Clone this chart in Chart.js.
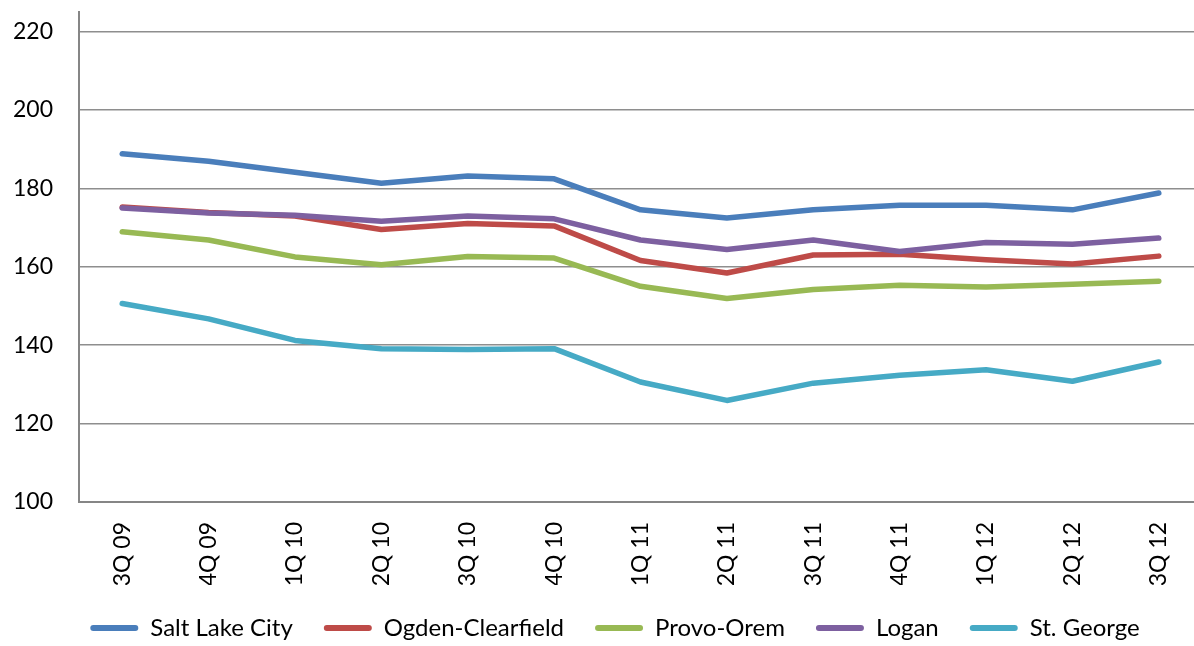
<!DOCTYPE html>
<html>
<head>
<meta charset="utf-8">
<script src="https://cdn.jsdelivr.net/npm/chart.js@4/dist/chart.umd.min.js"></script>
<style>
  html, body { margin: 0; padding: 0; background: #fff; overflow: hidden; }
  #wrap { position: absolute; left: 0; top: -28px; width: 1230px; height: 678px; }
</style>
</head>
<body>
<div id="wrap"><canvas id="chart"></canvas></div>
<script>
// Quarterly series
const quarters = ['3Q 09', '4Q 09', '1Q 10', '2Q 10', '3Q 10', '4Q 10', '1Q 11', '2Q 11', '3Q 11', '4Q 11', '1Q 12', '2Q 12', '3Q 12'];
const saltLake = [188.8, 186.9, 184.1, 181.3, 183.1, 182.4, 174.5, 172.4, 174.5, 175.7, 175.7, 174.5, 178.8];
const ogden    = [175.2, 173.8, 172.9, 169.5, 171.0, 170.4, 161.6, 158.4, 163.0, 163.2, 161.8, 160.7, 162.7];
const provo    = [168.9, 166.8, 162.5, 160.5, 162.6, 162.2, 155.0, 151.9, 154.2, 155.3, 154.8, 155.5, 156.3];
const logan    = [175.0, 173.7, 173.1, 171.6, 172.9, 172.2, 166.8, 164.4, 166.8, 163.9, 166.2, 165.7, 167.3];
const stGeorge = [150.6, 146.7, 141.2, 139.1, 138.9, 139.1, 130.6, 125.9, 130.3, 132.3, 133.7, 130.8, 135.7];
const yTicks = [100, 120, 140, 160, 180, 200, 220];

const FONT = 'Lato';

function series(label, data, color, order) {
  return {
    label, data, order,
    borderColor: color,
    backgroundColor: color,
    borderWidth: 5.5,
    borderCapStyle: 'round',
    borderJoinStyle: 'round',
    pointRadius: 0,
    tension: 0
  };
}

// nudge the legend right so it sits centred like the original
const legendShift = {
  id: 'legendShift',
  afterLayout(chart) {
    chart.legend.left += 14;
    chart.legend.right += 14;
  }
};

new Chart(document.getElementById('chart'), {
  type: 'line',
  data: {
    labels: quarters,
    datasets: [
      series('Salt Lake City', saltLake, '#4A7EBB', 5),
      series('Ogden-Clearfield', ogden, '#BE4B48', 4),
      series('Provo-Orem', provo, '#98B954', 3),
      series('Logan', logan, '#7D60A0', 2),
      series('St. George', stGeorge, '#46AAC5', 1)
    ]
  },
  options: {
    responsive: true,
    maintainAspectRatio: false,
    animation: false,
    layout: { padding: { top: 10, right: 28, left: 0, bottom: 0 } },
    plugins: {
      tooltip: { enabled: false },
      legend: {
        position: 'bottom',
        labels: {
          color: '#000',
          font: { family: FONT, size: 24 },
          boxWidth: 48,
          boxHeight: 6,
          padding: 31,
          useBorderRadius: true,
          borderRadius: 3,
          sort: (a, b) => a.datasetIndex - b.datasetIndex,
          generateLabels(chart) {
            const items = Chart.defaults.plugins.legend.labels.generateLabels(chart);
            items.forEach(it => { it.lineWidth = 0; });
            return items;
          }
        }
      }
    },
    scales: {
      x: {
        offset: true,
        grid: { display: false, drawTicks: false },
        border: { display: true, color: '#868686', width: 2 },
        ticks: {
          color: '#000',
          font: { family: FONT, size: 23 },
          minRotation: 90,
          maxRotation: 90,
          padding: 20,
          autoSkip: false
        },
        afterFit(scale) { scale.height = 83; }
      },
      y: {
        min: 100,
        max: 225,
        grid: { color: '#8E8E8E', lineWidth: 1.5, drawTicks: false },
        border: { display: true, color: '#868686', width: 2 },
        ticks: {
          color: '#000',
          font: { family: FONT, size: 23 },
          padding: 26
        },
        afterBuildTicks(scale) { scale.ticks = yTicks.map(v => ({ value: v })); },
        afterFit(scale) { scale.width = 79; }
      }
    }
  },
  plugins: [legendShift]
});
</script>
</body>
</html>
